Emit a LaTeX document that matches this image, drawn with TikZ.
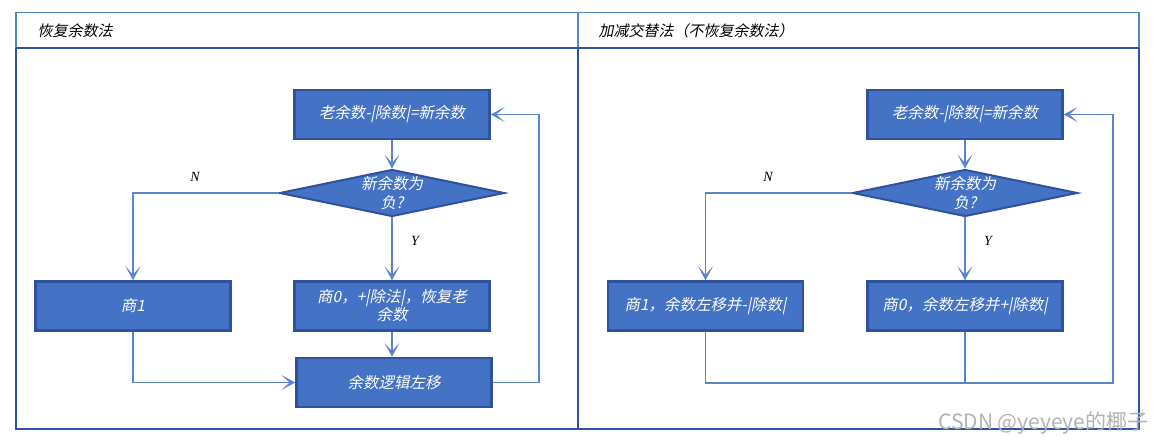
\documentclass[tikz,border=0pt]{standalone}
\usepackage{fontspec}
\newfontfamily\cjk[FakeSlant=0.2]{Noto Sans CJK SC}
\newfontfamily\cjkup{Noto Sans CJK SC}
\newfontfamily\latinserif{Liberation Serif}
\usetikzlibrary{arrows.meta,shapes.geometric}
\definecolor{boxfill}{HTML}{4472C4}
\definecolor{boxline}{HTML}{2F52A0}
\definecolor{conn}{HTML}{5B84D0}
\definecolor{frametop}{HTML}{4F8ABE}
\definecolor{framebot}{HTML}{2E54A4}
\begin{document}
\begin{tikzpicture}[x=1pt,y=-1pt,
  procbox/.style={draw=boxline, fill=boxfill, line width=2.5pt, minimum width=195pt, minimum height=49pt, inner sep=0pt, text=white, font=\cjk\fontsize{15.5}{18}\selectfont, align=center},
  decide/.style={draw=boxline, fill=boxfill, line width=2pt, diamond, aspect=4.7, minimum width=225pt, minimum height=47pt, inner sep=-4pt, text=white, font=\cjk\fontsize{15.5}{19}\selectfont, align=center},
  conline/.style={draw=conn, line width=1.3pt},
  arr/.style={conline, -{Stealth[length=14pt,width=15pt,inset=8.5pt]}},
  yn/.style={font=\latinserif\itshape\fontsize{14}{16}\selectfont, text=black},
  head/.style={font=\cjk\fontsize{15}{17}\selectfont, text=black, anchor=west},
]
\useasboundingbox (0,0) rectangle (1157,443);
% frame
\draw[frametop, line width=1.3pt] (16,48) -- (16,12.5) -- (1139,12.5) -- (1139,48);
\draw[frametop, line width=1.3pt] (578,12.5) -- (578,48);
\draw[framebot, line width=1.3pt] (16,48) -- (1139,48);
\draw[framebot, line width=1.5pt] (16,48) -- (16,429) -- (1139,429) -- (1139,48);
\draw[framebot, line width=1.3pt] (578,48) -- (578,429);
\node[head] (hL) at (34,31) {恢复余数法};
\node[head] (hR) at (595,31) {加减交替法（不恢复余数法）};

% left flow
\node[procbox] (aL) at (392,114.5) {老余数-|除数|=新余数};
\node[decide] (dL) at (392,193) {新余数为\\负?};
\node[procbox] (q1L) at (133,306) {商1};
\node[procbox] (q0L) at (392,306) {商0，+|除法|，恢复老\\余数};
\node[procbox] (shL) at (394,382.5) {余数逻辑左移};
\coordinate (loopL) at (539,114.5);
\draw[arr] (aL) -- (dL);
\draw[arr] (dL.west) -| (q1L.north);
\draw[arr] (dL) -- (q0L);
\draw[arr] (q0L.south) -- (q0L.south |- shL.north);
\draw[arr] (q1L.south) |- (shL.west);
\draw[arr] (shL.east) -| (loopL) -- (aL.east);
\node[yn] (nL) at (195,177) {N};
\node[yn] (yL) at (415,241) {Y};

% right flow
\node[procbox] (aR) at (965,114.5) {老余数-|除数|=新余数};
\node[decide] (dR) at (965,193) {新余数为\\负?};
\node[procbox] (q1R) at (705.5,306) {商1，余数左移并-|除数|};
\node[procbox] (q0R) at (965,306) {商0，余数左移并+|除数|};
\coordinate (cornerR) at (1113,383);
\coordinate (loopR) at (1113,114.5);
\draw[arr] (aR) -- (dR);
\draw[arr] (dR.west) -| (q1R.north);
\draw[arr] (dR) -- (q0R);
\draw[arr] (q1R.south) |- (cornerR) -- (loopR) -- (aR.east);
\draw[conline] (q0R.south) -- (q0R.south |- cornerR);
\node[yn] (nR) at (768,177) {N};
\node[yn] (yR) at (988,241) {Y};

% watermark
\node[font=\cjkup\fontsize{21}{23}\selectfont, text=black!30, anchor=east] (wm) at (1152,423) {CSDN @yeyeye的椰子};
\end{tikzpicture}
\end{document}
